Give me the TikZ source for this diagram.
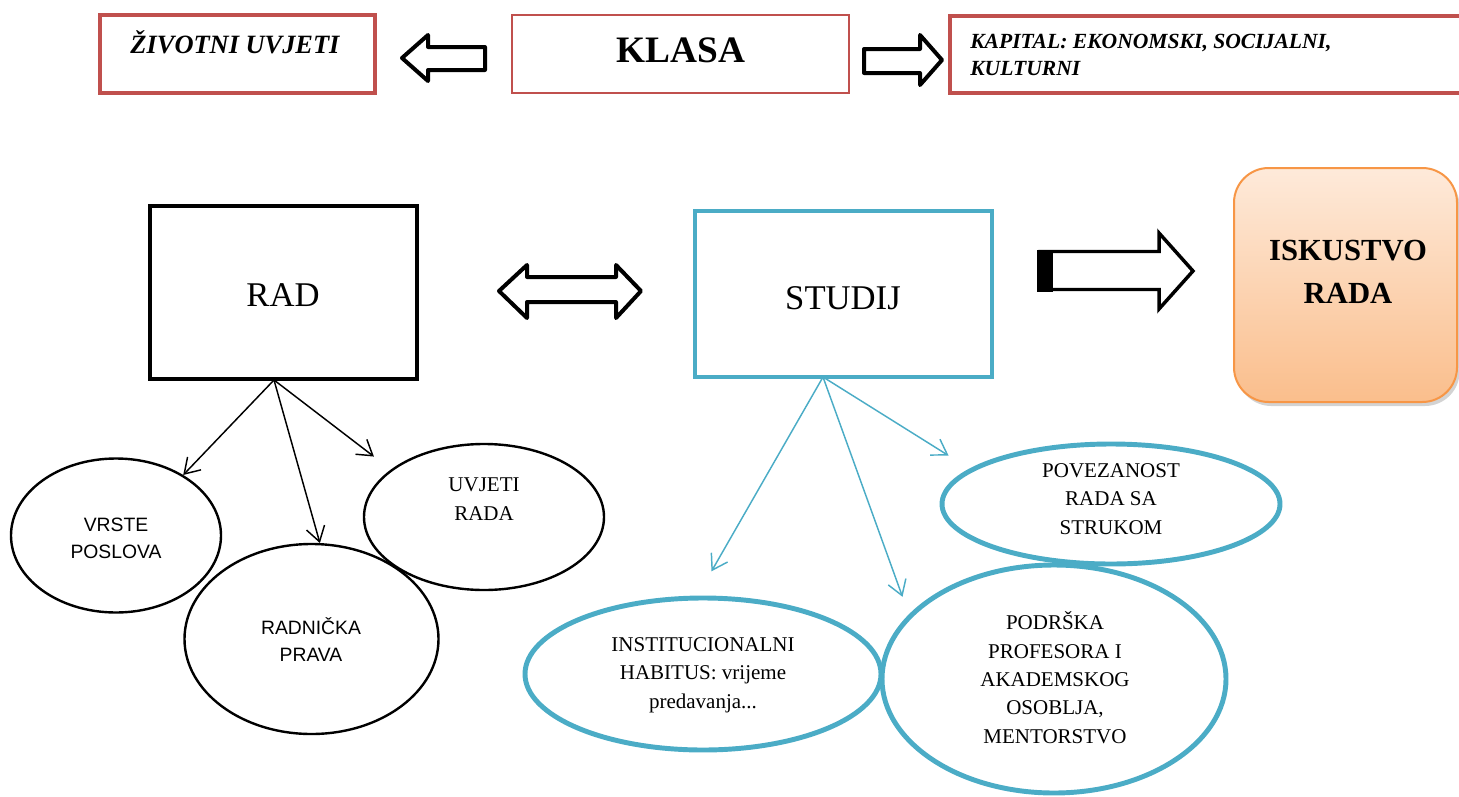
\documentclass[tikz,border=0pt]{standalone}
\usepackage{fontspec}
\setmainfont{Liberation Serif}
\newfontfamily\sansf{Liberation Sans}
\usetikzlibrary{shapes.geometric,arrows.meta,shadows}
\definecolor{rd}{HTML}{C0504D}
\definecolor{bl}{HTML}{4BACC6}
\definecolor{og}{HTML}{F79646}
\definecolor{ogtop}{RGB}{254,234,218}
\definecolor{ogbot}{RGB}{250,190,140}
\tikzset{
  bx/.style={rectangle, inner sep=0pt},
  ell/.style={ellipse, inner sep=0pt, fill=white},
  blkell/.style={ell, draw=black, line width=1.8pt},
  blueell/.style={ell, draw=bl, line width=3.7pt},
  blk/.style={draw=black, line width=3pt, line join=round, fill=white},
  conn/.style={-{Straight Barb[length=11pt,width=14pt]}, line width=1.1pt},
  small/.style={font=\fontsize{15.75}{21.2}\selectfont, align=center, anchor=base, inner sep=0pt},
  smallsans/.style={font=\sansf\fontsize{14.5}{20}\selectfont, align=center, anchor=base, inner sep=0pt},
}
\begin{document}
\begin{tikzpicture}[x=0.75pt,y=-0.75pt]
\useasboundingbox (0,0) rectangle (1459,796);

% top row
\node[bx, draw=rd, line width=3pt, minimum width=206.25pt, minimum height=58.5pt] (ziv) at (237.5,54) {};
\node[font=\fontsize{19.8}{24}\selectfont\bfseries\itshape, anchor=base, inner sep=0pt] (zivT) at (235,53) {ŽIVOTNI UVJETI};
\node[bx, draw=rd, line width=1.5pt, minimum width=252.75pt, minimum height=58.5pt] (klasa) at (680.5,54) {};
\node[font=\fontsize{28}{32}\selectfont\bfseries, anchor=base, inner sep=0pt] (klasaT) at (681,62) {KLASA};
\node[bx, draw=rd, line width=3pt, minimum width=390pt, minimum height=57.75pt] (kap) at (1210,54.5) {};
\node[font=\fontsize{16.2}{20.25}\selectfont\bfseries\itshape, anchor=base west, align=left, inner sep=0pt] (kapT) at (970,75) {KAPITAL: EKONOMSKI, SOCIJALNI,\\KULTURNI};

\draw[blk] (402,58) -- (428,35) -- (428,47) -- (485,47) -- (485,70) -- (428,70) -- (428,81) -- cycle;
\draw[blk] (864,49) -- (920,49) -- (920,35) -- (942,60) -- (920,85) -- (920,73) -- (864,73) -- cycle;

% middle row
\node[bx, draw=black, line width=3.4pt, minimum width=200.25pt, minimum height=129.75pt] (rad) at (283.5,292.5) {};
\node[font=\fontsize{26}{30}\selectfont, anchor=base, inner sep=0pt] (radT) at (283,306) {RAD};
\node[bx, draw=bl, line width=3pt, minimum width=222.75pt, minimum height=124.5pt] (studij) at (843.5,294) {};
\node[font=\fontsize{26}{30}\selectfont, anchor=base, inner sep=0pt] (studijT) at (843,309) {STUDIJ};
\node[bx, draw=og, line width=1.5pt, rounded corners=26pt, top color=ogtop, bottom color=ogbot,
      drop shadow={opacity=0.35, shadow xshift=2pt, shadow yshift=-3pt},
      minimum width=167.25pt, minimum height=175.5pt] (isk) at (1345.5,285) {};
\node[font=\fontsize{23}{32}\selectfont\bfseries, align=center, anchor=base, inner sep=0pt] (iskT) at (1348,303) {ISKUSTVO\\RADA};

\draw[blk] (499,291) -- (527,265) -- (527,277) -- (616,277) -- (616,265) -- (641,291) -- (616,318) -- (616,302) -- (527,302) -- (527,318) -- cycle;
\draw[blk, line width=2.6pt, line join=miter] (1040,251.5) -- (1159,251.5) -- (1159,233) -- (1193,271) -- (1159,309) -- (1159,289.5) -- (1040,289.5) -- cycle;
\fill[black] (1037,250) rectangle (1053,292);

% ellipses (black)
\node[blkell, minimum width=157.5pt, minimum height=115.5pt] (vrste) at (116,535.5) {};
\node[blkell, minimum width=180pt, minimum height=109.5pt] (uvjeti) at (484,517) {};
\node[blkell, minimum width=190.5pt, minimum height=142.5pt] (radn) at (311.5,639) {};
\node[smallsans] (vrsteT) at (116,558) {VRSTE\\POSLOVA};
\node[smallsans] (radnT) at (311,661) {RADNIČKA\\PRAVA};
\node[small] (uvjetiT) at (484,520) {UVJETI\\RADA};

% ellipses (blue)
\node[blueell, minimum width=253.5pt, minimum height=90pt] (povez) at (1111,504) {};
\node[blueell, minimum width=267pt, minimum height=114pt] (inst) at (703,674) {};
\node[blueell, minimum width=258pt, minimum height=171pt] (podr) at (1054,679) {};
\node[small] (instT) at (703,708) {INSTITUCIONALNI\\HABITUS: vrijeme\\predavanja...};
\node[small] (povezT) at (1111,534) {POVEZANOST\\RADA SA\\STRUKOM};
\node[small] (podrT) at (1055,743) {PODRŠKA\\PROFESORA I\\AKADEMSKOG\\OSOBLJA,\\MENTORSTVO};

% connectors
\coordinate (radO) at (274,380);
\coordinate (studO) at (823,377);
\draw[conn] (radO) -- (vrste.42);
\draw[conn] (radO) -- (radn.85);
\draw[conn, shorten >=16pt] (radO) -- (uvjeti.153);
\draw[conn, draw=bl, shorten >=21pt] (studO) -- (inst.94);
\draw[conn, draw=bl, shorten >=14pt] (studO) -- (podr.156);
\draw[conn, draw=bl, shorten >=18.5pt] (studO) -- (povez.166);
\end{tikzpicture}
\end{document}
